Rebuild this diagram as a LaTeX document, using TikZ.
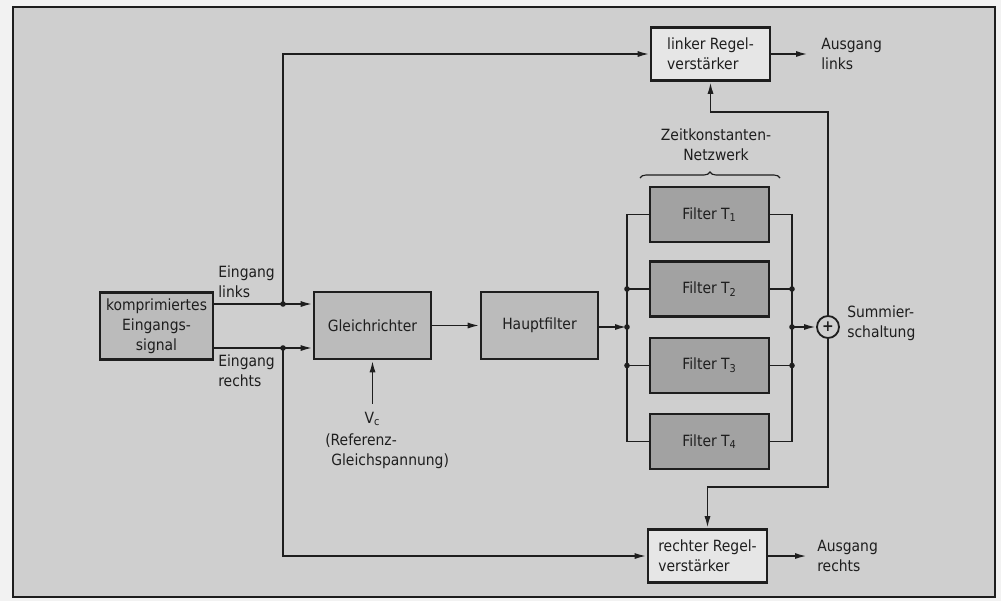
\documentclass[tikz,border=0pt]{standalone}
\usepackage{fontspec}
\setmainfont{DejaVu Sans Condensed}
\usetikzlibrary{arrows.meta,decorations.pathreplacing}

\definecolor{paper}{HTML}{F2F2F2}
\definecolor{bggray}{HTML}{CFCFCF}
\definecolor{midgray}{HTML}{BBBBBB}
\definecolor{filtergray}{HTML}{A2A2A2}
\definecolor{lightbox}{HTML}{E6E6E6}
\definecolor{ink}{HTML}{1E1E1E}

\tikzset{
  block/.style={draw=ink,line width=1.8pt,fill=midgray,minimum width=2.925cm,minimum height=1.675cm,align=center,inner sep=0pt},
  regler/.style={block,fill=lightbox,minimum width=2.975cm,minimum height=1.325cm,align=left},
  filterbox/.style={block,fill=filtergray,minimum width=2.975cm,minimum height=1.375cm},
  lbl/.style={align=left,inner sep=0pt,anchor=west},
  wire/.style={draw=ink,line width=1.3pt},
  arr/.style={wire,-{Latex[length=0.3cm,width=0.15cm]}},
  dot/.style={fill=ink},
}

\begin{document}
\begin{tikzpicture}[x=0.025cm,y=-0.025cm,text=ink,font=\fontsize{11}{14.2}\selectfont]
    \useasboundingbox[fill=paper] (0,0) rectangle (1001,601);
    \draw[fill=bggray,draw=ink,line width=1.8pt] (13,7) rectangle (995,597);

    \node[block,minimum width=2.825cm] (komp) at (156.5,326) {komprimiertes\\Eingangs-\\signal};
    \node[block] (gr) at (372.5,325.5) {Gleichrichter};
    \node[block] (hf) at (539.5,325.5) {Hauptfilter};
    \node[regler] (lrv) at (710.5,54) {linker Regel-\\verstärker};
    \node[regler] (rrv) at (707.5,556) {rechter Regel-\\verstärker};
    \node[filterbox] (f1) at (709.5,214.5) {Filter T\textsubscript{1}};
    \node[filterbox] (f2) at (709.5,289) {Filter T\textsubscript{2}};
    \node[filterbox] (f3) at (709.5,365.5) {Filter T\textsubscript{3}};
    \node[filterbox] (f4) at (709.5,441.5) {Filter T\textsubscript{4}};
    \node[draw=ink,line width=1.3pt,circle,fill=bggray,minimum size=0.55cm,inner sep=0pt] (sum) at (828,327) {\textbf{+}};

    \coordinate (jl) at (283,304);
    \coordinate (jr) at (283,348);
    \coordinate (bl) at (627,327);
    \coordinate (br) at (792,327);
    \coordinate (fbt) at (710.5,112);
    \coordinate (fbb) at (707.5,487);

    % labels
    \node[lbl] (einl) at (218,282) {Eingang\\links};
    \node[lbl] (einr) at (218,371) {Eingang\\rechts};
    \node[lbl] (ausl) at (821,54) {Ausgang\\links};
    \node[lbl] (ausr) at (817,556) {Ausgang\\rechts};
    \node[lbl] (summ) at (847,323) {Summier-\\schaltung};
    \node[align=center,inner sep=0pt] (zeit) at (716,145) {Zeitkonstanten-\\Netzwerk};
    \node[inner xsep=0pt,inner ysep=0.2cm] (vc) at (372.5,419) {V\textsubscript{c}};
    \node[lbl] (ref) at (325,451) {(Referenz-\\\hspace{0.15cm}Gleichspannung)};

    % inputs
    \draw[wire] (komp.east |- jl) -- (jl);
    \draw[arr] (jl) -- (gr.west |- jl);
    \draw[arr] (jl) |- (lrv.west);
    \draw[wire] (komp.east |- jr) -- (jr);
    \draw[arr] (jr) -- (gr.west |- jr);
    \draw[arr] (jr) |- (rrv.west);
    \draw[arr] (vc.north) -- (gr.south);
    \draw[arr] (gr.east) -- (hf.west);
    \draw[arr] (hf.east |- bl) -- (bl);

    % filter network
    \draw[wire] (f1.west) -| (bl |- f4.west) -- (f4.west);
    \draw[wire] (bl |- f2.west) -- (f2.west);
    \draw[wire] (bl |- f3.west) -- (f3.west);
    \draw[wire] (f1.east) -| (br |- f4.east) -- (f4.east);
    \draw[wire] (f2.east) -- (br |- f2.east);
    \draw[wire] (f3.east) -- (br |- f3.east);
    \draw[arr] (br) -- (sum.west);
    \draw[wire,decorate,decoration={brace,amplitude=0.15cm},line width=0.8pt] (640,178) -- (780,178);

    % feedback and outputs
    \draw[arr] (sum.north) |- (fbt) -- (lrv.south);
    \draw[arr] (sum.south) |- (fbb) -- (rrv.north);
    \draw[arr] (lrv.east) -- ([xshift=-0.325cm]ausl.west);
    \draw[arr] (rrv.east) -- ([xshift=-0.25cm]ausr.west);

    \foreach \p in {jl,jr,bl,br} \fill[dot] (\p) circle[radius=0.07cm];
    \foreach \f in {f2,f3} {
        \fill[dot] (bl |- \f.west) circle[radius=0.07cm];
        \fill[dot] (br |- \f.east) circle[radius=0.07cm];
    }
\end{tikzpicture}
\end{document}
